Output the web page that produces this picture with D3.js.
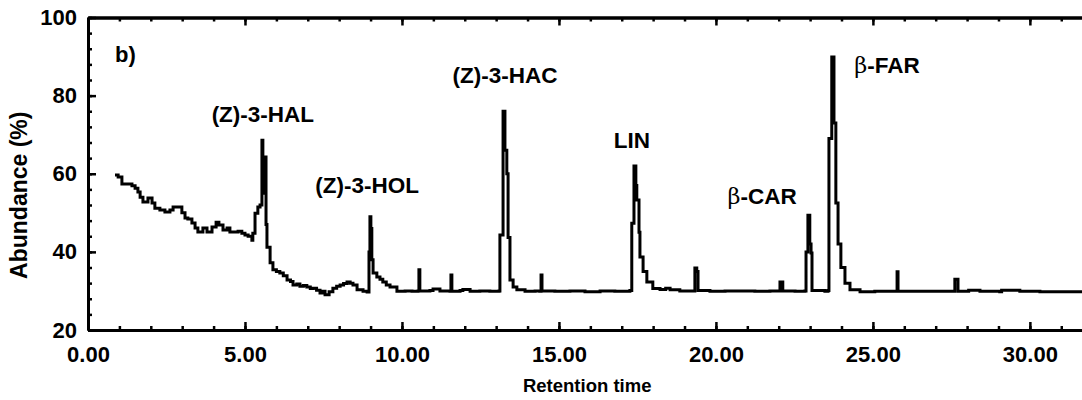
<!DOCTYPE html>
<html>
<head>
<meta charset="utf-8">
<script src="https://cdn.jsdelivr.net/npm/d3@7"></script>
<style>
  body { margin: 0; background: #fff; }
  svg { display: block; }
  text { font-family: "Liberation Sans", Arial, sans-serif; font-weight: bold; fill: #000; }
</style>
</head>
<body>
<svg id="chart" width="1082" height="400"></svg>
<script>
// chromatogram trace (retention time, abundance %)
var retentionTime = [
  0.86, 0.96, 1.08, 1.24, 1.40, 1.50, 1.59, 1.66, 1.75, 1.91, 2.04, 2.13, 2.29, 2.45, 2.61, 2.71,
  2.87, 2.99, 3.09, 3.18, 3.31, 3.41, 3.50, 3.66, 3.79, 3.95, 4.08, 4.17, 4.30, 4.43, 4.52, 4.68,
  4.78, 4.90, 5.00, 5.10, 5.22, 5.25, 5.32, 5.41, 5.48, 5.54, 5.57, 5.61, 5.67, 5.70, 5.80, 5.89,
  6.00, 6.11, 6.22, 6.34, 6.45, 6.53, 6.65, 6.75, 6.86, 6.97, 7.08, 7.17, 7.28, 7.39, 7.47, 7.55,
  7.68, 7.80, 7.92, 8.03, 8.14, 8.25, 8.35, 8.44, 8.57, 8.76, 8.89,
  8.95, 8.98, 9.01, 9.04, 9.08, 9.20, 9.30, 9.39, 9.50, 9.62, 9.84, 10.10, 10.32, 10.51, 10.54, 10.57,
  10.89, 10.99, 11.21, 11.53, 11.56, 11.59, 11.85, 11.94, 12.17, 12.48, 12.80, 13.09, 13.12, 13.18, 13.22, 13.28,
  13.34, 13.38, 13.44, 13.54, 13.66, 13.92, 14.24, 14.39, 14.43, 14.46, 14.87, 15.35, 15.83, 16.31, 16.78, 17.26,
  17.32, 17.39, 17.45, 17.48, 17.55, 17.58, 17.68, 17.80, 17.99, 18.22, 18.40, 18.54, 18.85, 19.30, 19.33, 19.39,
  19.43, 19.81, 20.29, 20.76, 21.24, 21.72, 22.01, 22.04, 22.10, 22.13, 22.52, 22.83, 22.87, 22.93, 22.99, 23.03,
  23.06, 23.47, 23.57, 23.60, 23.69, 23.76, 23.82, 23.89, 23.98, 24.11, 24.27, 24.59, 25.06, 25.54, 25.73, 25.77,
  25.80, 26.18, 26.82, 27.58, 27.61, 27.67, 27.71, 28.05, 28.41, 29.04, 29.10, 29.68, 30.32, 30.96, 31.66
];
var abundance = [
  59.7, 59.2, 57.4, 57.4, 56.9, 56.3, 55.3, 54.0, 52.8, 53.8, 52.5, 51.2, 50.7, 50.2, 50.7, 51.5,
  51.5, 50.0, 48.7, 48.4, 47.4, 46.1, 45.1, 46.1, 45.1, 46.4, 47.6, 46.9, 45.6, 46.1, 45.1, 45.1,
  45.3, 44.8, 44.3, 44.0, 43.0, 44.8, 49.9, 51.5, 52.0, 68.6, 55.0, 64.3, 47.0, 41.2, 37.2, 35.4,
  35.0, 34.6, 33.9, 32.8, 32.4, 31.5, 31.8, 31.2, 31.4, 31.0, 30.6, 30.7, 30.2, 29.5, 29.9, 29.0,
  29.8, 30.7, 31.2, 31.5, 31.9, 32.3, 32.0, 31.5, 30.3, 29.9, 29.7,
  40.0, 49.0, 46.0, 38.0, 34.6, 33.6, 33.0, 32.3, 31.5, 31.0, 29.9, 30.0, 29.9, 30.0, 35.4, 30.0,
  30.1, 30.5, 30.0, 29.9, 34.1, 29.9, 30.1, 30.4, 29.9, 30.0, 29.9, 30.0, 44.3, 44.3, 76.0, 66.0,
  60.0, 43.7, 32.8, 31.0, 30.3, 29.9, 30.0, 29.9, 34.1, 30.0, 29.9, 30.0, 29.8, 30.0, 29.9, 30.1,
  47.3, 62.0, 57.0, 53.3, 45.0, 38.7, 35.0, 32.3, 30.6, 30.4, 30.7, 30.3, 30.0, 30.0, 35.9, 35.0,
  30.1, 29.9, 30.0, 30.0, 29.9, 30.0, 30.0, 32.3, 32.3, 30.0, 29.9, 30.0, 40.0, 49.4, 42.0, 39.7,
  30.1, 29.9, 30.1, 69.0, 89.9, 73.0, 52.5, 42.0, 36.0, 32.0, 30.3, 29.8, 29.9, 29.9, 29.9, 34.9,
  29.9, 29.9, 29.9, 29.9, 33.0, 33.0, 29.9, 30.2, 29.9, 29.8, 30.2, 29.9, 29.8, 29.8, 29.8
];

var peakNames = ["(Z)-3-HAL", "(Z)-3-HOL", "(Z)-3-HAC", "LIN", "CAR", "FAR"];
var peakGreek = [false, false, false, false, true, true];
var peakLabelTime = [5.57, 8.89, 13.28, 17.32, 21.47, 25.45];
var peakLabelAbundance = [73.2, 55.1, 83.2, 66.6, 52.3, 85.8];

var xDomain = [0, 31.66];
var yDomain = [20, 100];
var xMajorTicks = [0, 5, 10, 15, 20, 25, 30];
var yMajorTicks = [20, 40, 60, 80, 100];

var svg = d3.select("#chart");
var margin = {left: 88, top: 17.5, bottom: 70};
var width = 1082, height = 400;

var x = d3.scaleLinear().domain(xDomain).range([margin.left, width]);
var y = d3.scaleLinear().domain(yDomain).range([height - margin.bottom, margin.top]);

// minor ticks first, majors on top
var minorX = d3.range(0, 32, 1);
var minorY = d3.range(20, 101, 4);

function styleAxis(g) {
    g.selectAll("path.domain").attr("stroke-width", 3).attr("stroke", "#000");
    g.selectAll(".tick line").attr("stroke-width", 2.5).attr("stroke", "#000");
    g.selectAll(".tick text").style("font-size", "22px").attr("fill", "#000");
}

var bottomY = y(yDomain[0]);
var topY = y(yDomain[1]);

svg.append("g").attr("transform", "translate(0," + bottomY + ")")
    .call(d3.axisBottom(x).tickValues(minorX).tickSize(-4).tickFormat("").tickSizeOuter(0))
    .call(styleAxis);
svg.append("g").attr("transform", "translate(0," + bottomY + ")")
    .call(d3.axisBottom(x).tickValues(xMajorTicks).tickSize(-8).tickPadding(16)
        .tickFormat(d3.format(".2f")).tickSizeOuter(0))
    .call(styleAxis);

svg.append("g").attr("transform", "translate(0," + topY + ")")
    .call(d3.axisTop(x).tickValues(minorX).tickSize(-4).tickFormat("").tickSizeOuter(0))
    .call(styleAxis);
svg.append("g").attr("transform", "translate(0," + topY + ")")
    .call(d3.axisTop(x).tickValues(xMajorTicks).tickSize(-8).tickFormat("").tickSizeOuter(0))
    .call(styleAxis);

svg.append("g").attr("transform", "translate(" + margin.left + ",0)")
    .call(d3.axisLeft(y).tickValues(minorY).tickSize(-4).tickFormat("").tickSizeOuter(0))
    .call(styleAxis);
svg.append("g").attr("transform", "translate(" + margin.left + ",0)")
    .call(d3.axisLeft(y).tickValues(yMajorTicks).tickSize(-8).tickPadding(11)
        .tickFormat(d3.format("d")).tickSizeOuter(0))
    .call(styleAxis);

// trace, drawn as a staircase like the detector output
var points = retentionTime.map(function(t, i) { return [t, abundance[i]]; });
var line = d3.line()
    .curve(d3.curveStepAfter)
    .x(function(d) { return x(d[0]); })
    .y(function(d) { return y(d[1]); });

svg.append("path")
    .datum(points)
    .attr("d", line)
    .attr("fill", "none")
    .attr("stroke", "#000")
    .attr("stroke-width", 3)
    .attr("stroke-linejoin", "miter");

// peak labels
peakNames.forEach(function(name, i) {
    var t = svg.append("text")
        .attr("x", x(peakLabelTime[i]))
        .attr("y", y(peakLabelAbundance[i]))
        .attr("text-anchor", "middle")
        .style("font-size", "22.5px");
    if (peakGreek[i]) {
        t.append("tspan").style("font-weight", "normal")
            .style("font-family", "'DejaVu Serif', serif").text("β");
        t.append("tspan").text("-" + name);
    } else {
        t.text(name);
    }
});

svg.append("text")
    .attr("x", x(0.86)).attr("y", y(88.6))
    .style("font-size", "22px")
    .text("b)");

// axis titles
svg.append("text")
    .attr("x", x(15.9)).attr("y", 392)
    .attr("text-anchor", "middle")
    .style("font-size", "18.5px")
    .text("Retention time");

svg.append("text")
    .attr("transform", "translate(27," + y(54.5) + ") rotate(-90)")
    .attr("text-anchor", "middle")
    .style("font-size", "23px")
    .text("Abundance (%)");
</script>
</body>
</html>
